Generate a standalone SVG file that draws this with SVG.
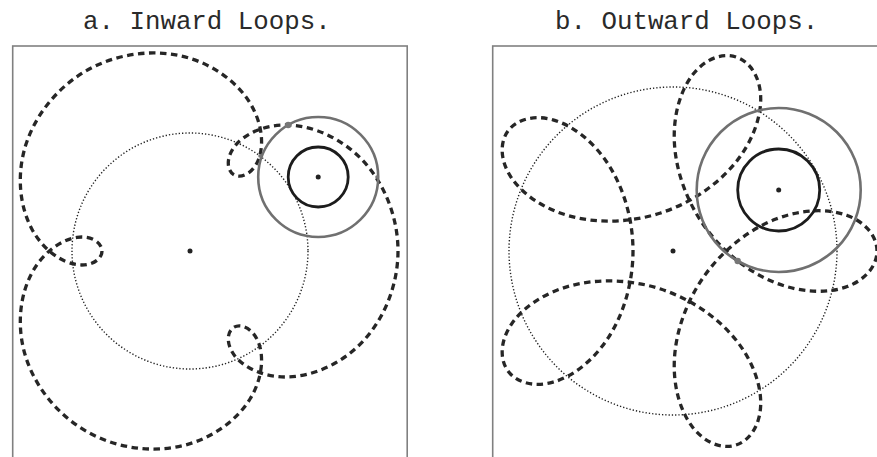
<svg xmlns="http://www.w3.org/2000/svg" xmlns:xlink="http://www.w3.org/1999/xlink" width="877" height="457" viewBox="0 0 877 457">
<style>
.title{font-family:"Liberation Mono","Courier New",monospace;font-size:25.8px;fill:#2a2a2a}
.frame{fill:none;stroke:#808080;stroke-width:1.6}
.dash{fill:none;stroke:#262626;stroke-width:3.3;stroke-dasharray:6.5 4.5;stroke-linecap:butt}
.dot{fill:none;stroke:#222;stroke-width:1.4;stroke-dasharray:1.3 2}
.epi{fill:none;stroke:#707070;stroke-width:2.6}
.inner{fill:none;stroke:#1c1c1c;stroke-width:2.8}
.ctr{fill:#222}
.pt{fill:#777}
</style>
<defs>
<path id="arcA" pathLength="550" d="M208,0 C208,33.859 194.438,67.320 172.957,90.267 C151.476,113.214 122.768,125.249 98.172,125.962 C73.576,126.675 53.784,116.464 44.652,104.652 C35.520,92.840 37.047,80.224 44,76.210 C50.953,72.196 62.642,77.180 68.305,90.995 C73.968,104.810 72.915,127.056 60,148 C47.085,168.944 22.308,187.790 -8.305,194.919 C-38.918,202.048 -74.677,197.064 -104,180.134"/>
<path id="arcB" pathLength="429" d="M204,0 C204,-14.382 192.991,-28.582 174.203,-35.573 C155.415,-42.564 129.118,-42.104 102.881,-31.929 C76.644,-21.754 50.827,-1.904 32.361,23.512 C13.895,48.928 2.995,79.616 1.426,107.713 C-0.143,135.810 7.545,160.961 20,176.669 C32.455,192.377 49.361,198.460 63.039,194.016"/>
</defs>

<g id="titles">
<text class="title" x="83" y="29">a. Inward Loops.</text>
<text class="title" x="555" y="29">b. Outward Loops.</text>
</g>

<g id="panel-a">
<rect class="frame" x="12.7" y="46" width="394.5" height="430"/>
<circle id="a-mean" class="dot" cx="190" cy="251" r="118"/>
<g id="a-path" transform="translate(190,251)">
<use xlink:href="#arcA" class="dash"/>
<use xlink:href="#arcA" class="dash" transform="rotate(120)"/>
<use xlink:href="#arcA" class="dash" transform="rotate(240)"/>
</g>
<circle id="a-epicycle" class="epi" cx="318.2" cy="177" r="60"/>
<circle id="a-inner" class="inner" cx="318.2" cy="177" r="30"/>
<circle class="ctr" cx="190" cy="251" r="2.5"/>
<circle class="ctr" cx="318.2" cy="177" r="2.5"/>
<circle class="pt" cx="288.2" cy="125" r="3.2"/>
<circle class="pt" cx="260" cy="156" r="1.8"/>
<circle class="pt" cx="377" cy="177" r="1.8"/>
</g>

<g id="panel-b">
<rect class="frame" x="492.7" y="46" width="420" height="430"/>
<circle id="b-mean" class="dot" cx="673" cy="251" r="164"/>
<g id="b-path" transform="translate(673,251)">
<use xlink:href="#arcB" class="dash"/>
<use xlink:href="#arcB" class="dash" transform="rotate(72)"/>
<use xlink:href="#arcB" class="dash" transform="rotate(144)"/>
<use xlink:href="#arcB" class="dash" transform="rotate(216)"/>
<use xlink:href="#arcB" class="dash" transform="rotate(288)"/>
</g>
<circle id="b-epicycle" class="epi" cx="778.7" cy="190" r="82"/>
<circle id="b-inner" class="inner" cx="778.7" cy="190" r="41"/>
<circle class="ctr" cx="673" cy="251" r="2.5"/>
<circle class="ctr" cx="778.7" cy="190" r="2.5"/>
<circle class="pt" cx="737.7" cy="261" r="3.2"/>
</g>
</svg>
